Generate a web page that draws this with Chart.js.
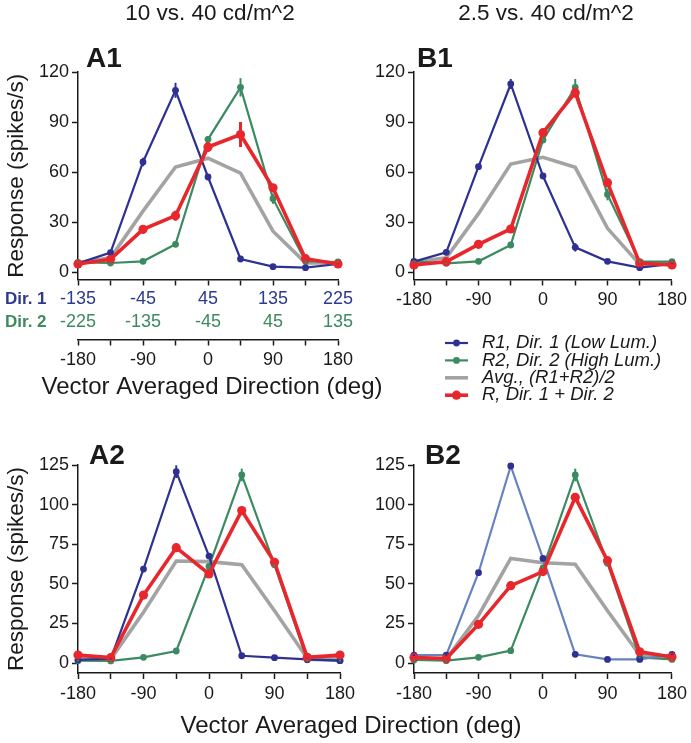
<!DOCTYPE html>
<html><head><meta charset="utf-8">
<script src="https://cdn.jsdelivr.net/npm/chart.js@4.4.1/dist/chart.umd.min.js"></script>
<style>
html,body{margin:0;padding:0;background:#fff;}
#wrap{position:relative;width:691px;height:743px;overflow:hidden;background:#fff;}
canvas{position:absolute;left:0;top:0;}
</style></head><body>
<div id="wrap">
<canvas id="cA1" width="691" height="743"></canvas>
<canvas id="cB1" width="691" height="743"></canvas>
<canvas id="cA2" width="691" height="743"></canvas>
<canvas id="cB2" width="691" height="743"></canvas>
</div>
<script>
// ---------- data ----------
const directions = [-180, -135, -90, -45, 0, 45, 90, 135, 180];
const xTickValues = [-180, -135, -90, -45, 0, 45, 90, 135, 180];
const xLabelValues = [-180, -90, 0, 90, 180];
const dir1Labels = ['-135', '-45', '45', '135', '225'];
const dir2Labels = ['-225', '-135', '-45', '45', '135'];
const yTicksTop = [0, 30, 60, 90, 120];
const yTicksBottom = [0, 25, 50, 75, 100, 125];
const seriesLabels = ['R1, Dir. 1 (Low Lum.)', 'R2, Dir. 2 (High Lum.)', 'Avg., (R1+R2)/2', 'R, Dir. 1 + Dir. 2'];

// A1: 10 vs 40 cd/m^2
const a1R1 = [5.2, 11.6, 66, 109, 57, 7.8, 3.2, 2.6, 4.8];
const a1R2 = [5.8, 5.4, 6.4, 16.6, 79.6, 110.8, 44, 6.5, 6];
const a1Avg = [5.5, 8.5, 36.5, 63, 68.3, 59.3, 24.5, 5.5, 5.5];
const a1R = [4.8, 7.6, 25.6, 33.8, 75, 82.5, 50.5, 8, 4.8];
const a1R1Err = [0.5, 1, 2.5, 4.5, 1.5, 1, 0.5, 0.5, 0.5];
const a1R2Err = [0.5, 0.5, 1, 1.5, 2, 5.5, 3, 1, 0.5];
const a1RErr = [0.5, 1, 2.5, 3, 3, 7.5, 2, 1, 0.5];

// B1: 2.5 vs 40 cd/m^2
const b1R1 = [6.2, 11.8, 63.2, 112.8, 57.6, 14.8, 6.4, 2.6, 4.8];
const b1R2 = [6.4, 5.2, 6.4, 16.2, 79.2, 110.8, 46.5, 6.2, 6.2];
const b1Avg = [6, 8.5, 35, 64.8, 68.8, 62.8, 26.2, 4.5, 5.5];
const b1R = [4.2, 6.2, 16.6, 25.8, 83.6, 107.6, 53.6, 5.2, 4.2];
const b1R1Err = [0.5, 1, 1.5, 3, 1.5, 2.5, 1, 0.5, 0.5];
const b1R2Err = [0.5, 0.5, 1, 1, 1.5, 5, 3.5, 1, 0.5];
const b1RErr = [0.5, 0.5, 1, 1.5, 2, 3, 2, 0.5, 0.5];

// A2
const a2R1 = [2, 2.8, 59.3, 120.8, 67.5, 4.6, 3.4, 2.3, 1.5];
const a2R2 = [1.5, 1.3, 3.6, 7.6, 61, 118.7, 62, 2, 1.5];
const a2Avg = [3, 2.5, 32, 64.4, 64, 62, 33, 3, 2.5];
const a2R = [5, 3.4, 42.9, 72.8, 56.2, 96.2, 63.6, 3.6, 5];
const a2R1Err = [0.5, 0.5, 1.5, 4, 1.5, 1, 0.5, 0.5, 0.5];
const a2R2Err = [0.5, 0.5, 0.5, 1, 1.5, 4, 1.5, 0.5, 0.5];
const a2RErr = [0.5, 0.5, 1.5, 2.5, 2, 2, 1.5, 0.5, 0.5];

// B2
const b2R1 = [5, 5, 57, 124.4, 66, 5.5, 2.3, 2.3, 5.5];
const b2R2 = [1.9, 1.5, 3.6, 7.8, 60, 118.7, 63, 3.5, 2.3];
const b2Avg = [3, 2.5, 30, 66, 63.3, 62.3, 33, 5, 3];
const b2R = [3.5, 2.8, 24.4, 48.8, 57.7, 104.6, 64.6, 7.1, 3.8];
const b2R1Err = [0.5, 0.5, 1, 1, 1, 0.5, 0.5, 0.5, 0.5];
const b2R2Err = [0.5, 0.5, 0.5, 1, 1.5, 4, 1.5, 0.5, 0.5];
const b2RErr = [0.5, 0.5, 1.5, 1.5, 2, 2.5, 2, 1, 0.5];

// ---------- styles ----------
const FONT = "'Liberation Sans', Arial, Helvetica, sans-serif";
const COL = {blue: '#2e3192', green: '#3b8a62', gray: '#a3a3a3', red: '#e8272c', blueLight: '#6683c0', axis: '#1a1a1a', dir1: '#2e3a8c', dir2: '#3f8a5f'};
const X_TITLE = 'Vector Averaged Direction (deg)';

function pts(arr) { return directions.map((x, i) => ({x: x, y: arr[i]})); }

function makeDatasets(r1, r2, avg, r, e1, e2, er, r1LineColor) {
  return [
    {label: seriesLabels[0], data: pts(r1), errors: e1, borderColor: r1LineColor || COL.blue, errColor: COL.blue,
     backgroundColor: COL.blue, pointBackgroundColor: COL.blue, borderWidth: 2.2, pointRadius: 3.4, pointBorderWidth: 0, order: 1, clip: false},
    {label: seriesLabels[1], data: pts(r2), errors: e2, borderColor: COL.green, backgroundColor: COL.green,
     borderWidth: 2.2, pointRadius: 3.4, pointBorderWidth: 0, order: 2, clip: false},
    {label: seriesLabels[2], data: pts(avg), borderColor: COL.gray, backgroundColor: COL.gray,
     borderWidth: 3.6, pointRadius: 0, order: 3, clip: false},
    {label: seriesLabels[3], data: pts(r), errors: er, borderColor: COL.red, backgroundColor: COL.red,
     borderWidth: 3.6, pointRadius: 4.6, pointBorderWidth: 0, order: 0, clip: false, errWidth: 3}
  ];
}

const errorBarPlugin = {
  id: 'errorBars',
  afterDatasetsDraw(chart) {
    const ctx = chart.ctx, xs = chart.scales.x, ys = chart.scales.y;
    chart.data.datasets.forEach(ds => {
      if (!ds.errors) return;
      ctx.save();
      ctx.strokeStyle = ds.errColor || ds.borderColor;
      ctx.lineWidth = ds.errWidth || 2;
      ds.data.forEach((p, i) => {
        const e = ds.errors[i];
        if (!e) return;
        const px = xs.getPixelForValue(p.x);
        ctx.beginPath();
        ctx.moveTo(px, ys.getPixelForValue(p.y - e));
        ctx.lineTo(px, ys.getPixelForValue(p.y + e));
        ctx.stroke();
      });
      ctx.restore();
    });
  }
};

const annotPlugin = {
  id: 'annot',
  afterDraw(chart, args, opts) {
    const ctx = chart.ctx;
    ctx.save();
    (opts.texts || []).forEach(t => {
      ctx.font = t.font;
      ctx.fillStyle = t.color || COL.axis;
      ctx.textAlign = t.align || 'left';
      ctx.textBaseline = t.baseline || 'middle';
      ctx.fillText(t.text, t.x, t.y);
    });
    if (opts.dirRows) {
      const xs = chart.scales.x;
      const r = opts.dirRows;
      ctx.font = 'bold 17px ' + FONT;
      ctx.textAlign = 'left';
      ctx.textBaseline = 'middle';
      ctx.fillStyle = COL.dir1; ctx.fillText('Dir. 1', r.labelX, r.y1);
      ctx.fillStyle = COL.dir2; ctx.fillText('Dir. 2', r.labelX, r.y2);
      ctx.font = '18px ' + FONT;
      ctx.textAlign = 'center';
      xLabelValues.forEach((v, i) => {
        const px = xs.getPixelForValue(v);
        ctx.fillStyle = COL.dir1; ctx.fillText(dir1Labels[i], px, r.y1);
        ctx.fillStyle = COL.dir2; ctx.fillText(dir2Labels[i], px, r.y2);
      });
    }
    if (opts.legend) {
      const L = opts.legend;
      chart.data.datasets.forEach((ds, i) => {
        const y = L.y + i * L.dy;
        ctx.strokeStyle = ds.errColor && i === 0 ? ds.errColor : ds.borderColor;
        ctx.lineWidth = ds.borderWidth;
        ctx.beginPath(); ctx.moveTo(L.x, y); ctx.lineTo(L.x + L.w, y); ctx.stroke();
        if (ds.pointRadius > 0) {
          ctx.fillStyle = ds.backgroundColor;
          ctx.beginPath(); ctx.arc(L.x + L.w / 2, y, ds.pointRadius, 0, Math.PI * 2); ctx.fill();
        }
        ctx.font = 'italic 18.5px ' + FONT;
        ctx.fillStyle = COL.axis;
        ctx.textAlign = 'left'; ctx.textBaseline = 'middle';
        ctx.fillText(ds.label, L.x + L.w + L.gap, y);
      });
    }
    ctx.restore();
  }
};

function axisCommon() {
  return {
    grid: {display: true, drawOnChartArea: false, drawTicks: true, tickLength: 6, tickWidth: 1.5, tickColor: COL.axis},
    border: {display: true, color: COL.axis, width: 1.5}
  };
}

function buildScales(p) {
  const scales = {
    x: Object.assign(axisCommon(), {
      type: 'linear', min: -180, max: 180, position: 'bottom', weight: 0,
      afterBuildTicks: sc => { sc.ticks = xTickValues.map(v => ({value: v})); },
      afterFit: sc => { sc.height = p.xH; },
      ticks: {font: {family: FONT, size: 18}, color: COL.axis, padding: 4, maxRotation: 0, minRotation: 0, autoSkip: false,
        callback: v => (p.xLabels && xLabelValues.includes(v)) ? String(v) : ''}
    }),
    y: Object.assign(axisCommon(), {
      type: 'linear', min: p.yMin, max: p.yMax, position: 'left',
      afterBuildTicks: sc => { sc.ticks = p.yTicks.map(v => ({value: v})); },
      afterFit: sc => { sc.width = p.yW; },
      ticks: {font: {family: FONT, size: 18}, color: COL.axis, padding: 3, autoSkip: false, callback: v => String(v)},
      title: {display: !!p.yTitle, text: 'Response (spikes/s)', font: {family: FONT, size: 22.5}, color: COL.axis, padding: {top: 3, bottom: 0}}
    })
  };
  if (p.x2) {
    scales.x2 = Object.assign(axisCommon(), {
      type: 'linear', min: -180, max: 180, position: 'bottom', weight: 1,
      afterBuildTicks: sc => { sc.ticks = xTickValues.map(v => ({value: v})); },
      afterFit: sc => { sc.height = p.x2H; },
      ticks: {font: {family: FONT, size: 18}, color: COL.axis, padding: 4, maxRotation: 0, minRotation: 0, autoSkip: false,
        callback: v => xLabelValues.includes(v) ? String(v) : ''}
    });
  }
  return scales;
}

function makeChart(id, datasets, p, annot) {
  return new Chart(document.getElementById(id), {
    type: 'line',
    data: {datasets: datasets},
    options: {
      responsive: false, animation: false, devicePixelRatio: 1,
      layout: {padding: p.pad},
      scales: buildScales(p),
      plugins: {legend: {display: false}, tooltip: {enabled: false}, title: {display: false}, annot: annot},
      elements: {line: {tension: 0}}
    },
    plugins: [errorBarPlugin, annotPlugin]
  });
}

const titleFont = '22.5px ' + FONT;
const panelFont = 'bold 28px ' + FONT;
const xTitleFont = '24px ' + FONT;

makeChart('cA1', makeDatasets(a1R1, a1R2, a1Avg, a1R, a1R1Err, a1R2Err, a1RErr),
  {pad: {left: 0, top: 72, right: 353, bottom: 338.5}, yW: 78, xH: 60, x2: true, x2H: 65, xLabels: false,
   yMin: -4.5, yMax: 120, yTicks: yTicksTop, yTitle: true},
  {texts: [
    {text: '10 vs. 40 cd/m^2', x: 210, y: 14, font: titleFont, align: 'center'},
    {text: 'A1', x: 86, y: 67, font: panelFont, baseline: 'alphabetic'},
    {text: X_TITLE, x: 212, y: 387, font: xTitleFont, align: 'center'}
   ],
   dirRows: {labelX: 5, y1: 299, y2: 322}});

makeChart('cB1', makeDatasets(b1R1, b1R2, b1Avg, b1R, b1R1Err, b1R2Err, b1RErr),
  {pad: {left: 345, top: 72, right: 15, bottom: 423.5}, yW: 69, xH: 40, xLabels: true,
   yMin: -4.5, yMax: 120, yTicks: yTicksTop, yTitle: false},
  {texts: [
    {text: '2.5 vs. 40 cd/m^2', x: 546, y: 14, font: titleFont, align: 'center'},
    {text: 'B1', x: 417, y: 67, font: panelFont, baseline: 'alphabetic'}
   ],
   legend: {x: 445, y: 343, dy: 17.4, w: 23, gap: 14}});

makeChart('cA2', makeDatasets(a2R1, a2R2, a2Avg, a2R, a2R1Err, a2R2Err, a2RErr),
  {pad: {left: 0, top: 465, right: 351, bottom: 30}, yW: 78, xH: 40, xLabels: true,
   yMin: -6.3, yMax: 125, yTicks: yTicksBottom, yTitle: true},
  {texts: [
    {text: 'A2', x: 89, y: 464, font: panelFont, baseline: 'alphabetic'},
    {text: X_TITLE, x: 351, y: 726, font: xTitleFont, align: 'center'}
  ]});

makeChart('cB2', makeDatasets(b2R1, b2R2, b2Avg, b2R, b2R1Err, b2R2Err, b2RErr, COL.blueLight),
  {pad: {left: 345, top: 465, right: 14, bottom: 30}, yW: 69, xH: 40, xLabels: true,
   yMin: -6.3, yMax: 125, yTicks: yTicksBottom, yTitle: false},
  {texts: [
    {text: 'B2', x: 425, y: 464, font: panelFont, baseline: 'alphabetic'}
  ]});
</script>
</body></html>
